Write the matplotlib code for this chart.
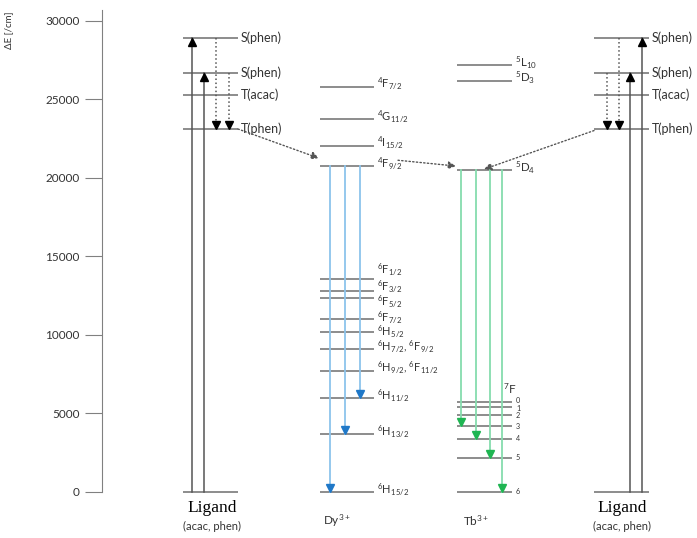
import matplotlib
matplotlib.use('Agg')
import matplotlib.pyplot as plt

plt.rcParams['font.family'] = ['Lato', 'DejaVu Sans']
plt.rcParams['mathtext.default'] = 'regular'

# energy levels [1/cm]
lig_E = [28940, 26710, 25290, 23120]
lig_lab = ['S(phen)', 'S(phen)', 'T(acac)', 'T(phen)']

dy_E = [25820, 23740, 22060, 20780, 13570, 12820, 12340, 11040, 10210,
        9090, 7730, 5970, 3690, 0]
dy_lab = [r'$^4$F$_{7/2}$', r'$^4$G$_{11/2}$', r'$^4$I$_{15/2}$', r'$^4$F$_{9/2}$',
          r'$^6$F$_{1/2}$', r'$^6$F$_{3/2}$', r'$^6$F$_{5/2}$', r'$^6$F$_{7/2}$',
          r'$^6$H$_{5/2}$', r'$^6$H$_{7/2}$, $^6$F$_{9/2}$',
          r'$^6$H$_{9/2}$, $^6$F$_{11/2}$', r'$^6$H$_{11/2}$',
          r'$^6$H$_{13/2}$', r'$^6$H$_{15/2}$']

tb_E = [27200, 26200, 20510]
tb_lab = [r'$^5$L$_{10}$', r'$^5$D$_3$', r'$^5$D$_4$']
tb7f_E = [5710, 5410, 4885, 4200, 3380, 2170, 0]
tb7f_lab = ['0', '1', '2', '3', '4', '5', '6']

dy_emit = [0, 3690, 5970]          # targets of Dy emission
tb_emit = [4200, 3380, 2170, 0]    # targets of Tb emission

yticks = [0, 5000, 10000, 15000, 20000, 25000, 30000]

lc = '#6e6e6e'
tc = '#333333'

fig = plt.figure(figsize=(6.97, 5.38), dpi=100)
ax = fig.add_axes([0, 46 / 538, 1, 482 / 538])
ax.set_xlim(0, 697)
ax.set_ylim(0, 30700)
for s in ['top', 'right', 'bottom']:
    ax.spines[s].set_visible(False)
ax.spines['left'].set_position(('data', 102))
ax.spines['left'].set_color('#808080')
ax.set_xticks([])
ax.set_yticks(yticks)
ax.tick_params(axis='y', direction='out', length=12, color='#808080',
               labelsize=8.5, labelcolor=tc, pad=4)
fig.text(9 / 697, 1 - 30 / 538, 'ΔE [/cm]', rotation=90, fontsize=7,
         ha='center', va='center', color=tc)

def level(x0, x1, E, lab=None, fs=9, dx=3, dy=0):
    ax.plot([x0, x1], [E, E], color=lc, lw=1.1, solid_capstyle='butt', clip_on=False)
    if lab:
        ax.text(x1 + dx, E + dy, lab, fontsize=fs, va='center', ha='left', color=tc)

def arrow(x, E0, E1, col='k', hcol=None, ls='-', lw=1.1):
    ax.plot([x, x], [E0, E1], color=col, lw=lw, ls=ls, clip_on=False)
    up = E1 > E0
    off = -260 if up else 260
    ax.plot(x, E1 + off, marker='^' if up else 'v', ms=6,
            color=hcol or col, mec=hcol or col, clip_on=False)

# ligand, left and right
for E, lab in zip(lig_E, lig_lab):
    level(183, 238, E, lab)
    level(594, 649, E, lab)
level(183, 238, 0)
level(594, 649, 0)
arrow(192, 0, lig_E[0], col='#555555', hcol='k')
arrow(204, 0, lig_E[1], col='#555555', hcol='k')
arrow(216, lig_E[0], lig_E[3], col='#555555', hcol='k', ls=':')
arrow(229, lig_E[1], lig_E[3], col='#555555', hcol='k', ls=':')
arrow(607, lig_E[1], lig_E[3], col='#555555', hcol='k', ls=':')
arrow(619, lig_E[0], lig_E[3], col='#555555', hcol='k', ls=':')
arrow(630, 0, lig_E[1], col='#555555', hcol='k')
arrow(642, 0, lig_E[0], col='#555555', hcol='k')

# Dy3+ (labels of the crowded 6F1/2..6H5/2 group spread apart)
nudge = {4: 420, 5: 120, 6: -380, 7: -80, 8: -180}
for i, (E, lab) in enumerate(zip(dy_E, dy_lab)):
    level(320, 374, E, lab, fs=8, dy=150 + nudge.get(i, 0))
for x, E in zip([330, 345, 360], dy_emit):
    arrow(x, dy_E[3], E, col='#8cc4ec', hcol='#1f78c8', lw=1.3)

# Tb3+
for E, lab in zip(tb_E, tb_lab):
    level(457, 512, E, lab, fs=8.3, dy=150)
tb_nudge = {0: 120, 1: -120}
for i, (E, lab) in enumerate(zip(tb7f_E, tb7f_lab)):
    level(457, 512, E, lab, fs=5.2, dx=4, dy=tb_nudge.get(i, 0))
ax.text(503, 6550, r'$^7$F', fontsize=8.5, color=tc, ha='left', va='center')
for x, E in zip([461, 476, 490, 502], tb_emit):
    arrow(x, tb_E[2], E, col='#86dcae', hcol='#1fb552', lw=1.3)

# energy transfer (dotted)
ap = dict(arrowstyle='-|>', ls=':', color='#555555', lw=1.0,
          mutation_scale=11, shrinkA=0, shrinkB=0)
ax.annotate('', xy=(319, dy_E[3] + 480), xytext=(238, lig_E[3]), arrowprops=ap)
ax.annotate('', xy=(456, tb_E[2] + 250), xytext=(398, dy_E[3] + 350), arrowprops=ap)
ax.annotate('', xy=(484, tb_E[2] + 50), xytext=(594, lig_E[3] - 100), arrowprops=ap)

# bottom labels
for xc in [212, 622]:
    fig.text(xc / 697, 1 - 508 / 538, 'Ligand', fontsize=12.5,
             family='Liberation Serif', ha='center', va='center', color='k')
    fig.text(xc / 697, 1 - 526 / 538, '(acac, phen)', fontsize=8,
             ha='center', va='center', color=tc)
fig.text(337 / 697, 1 - 521 / 538, r'Dy$^{3+}$', fontsize=8.5, ha='center',
         va='center', color=tc)
fig.text(476 / 697, 1 - 521 / 538, r'Tb$^{3+}$', fontsize=8.5, ha='center',
         va='center', color=tc)

fig.savefig('out.png', dpi=100)
